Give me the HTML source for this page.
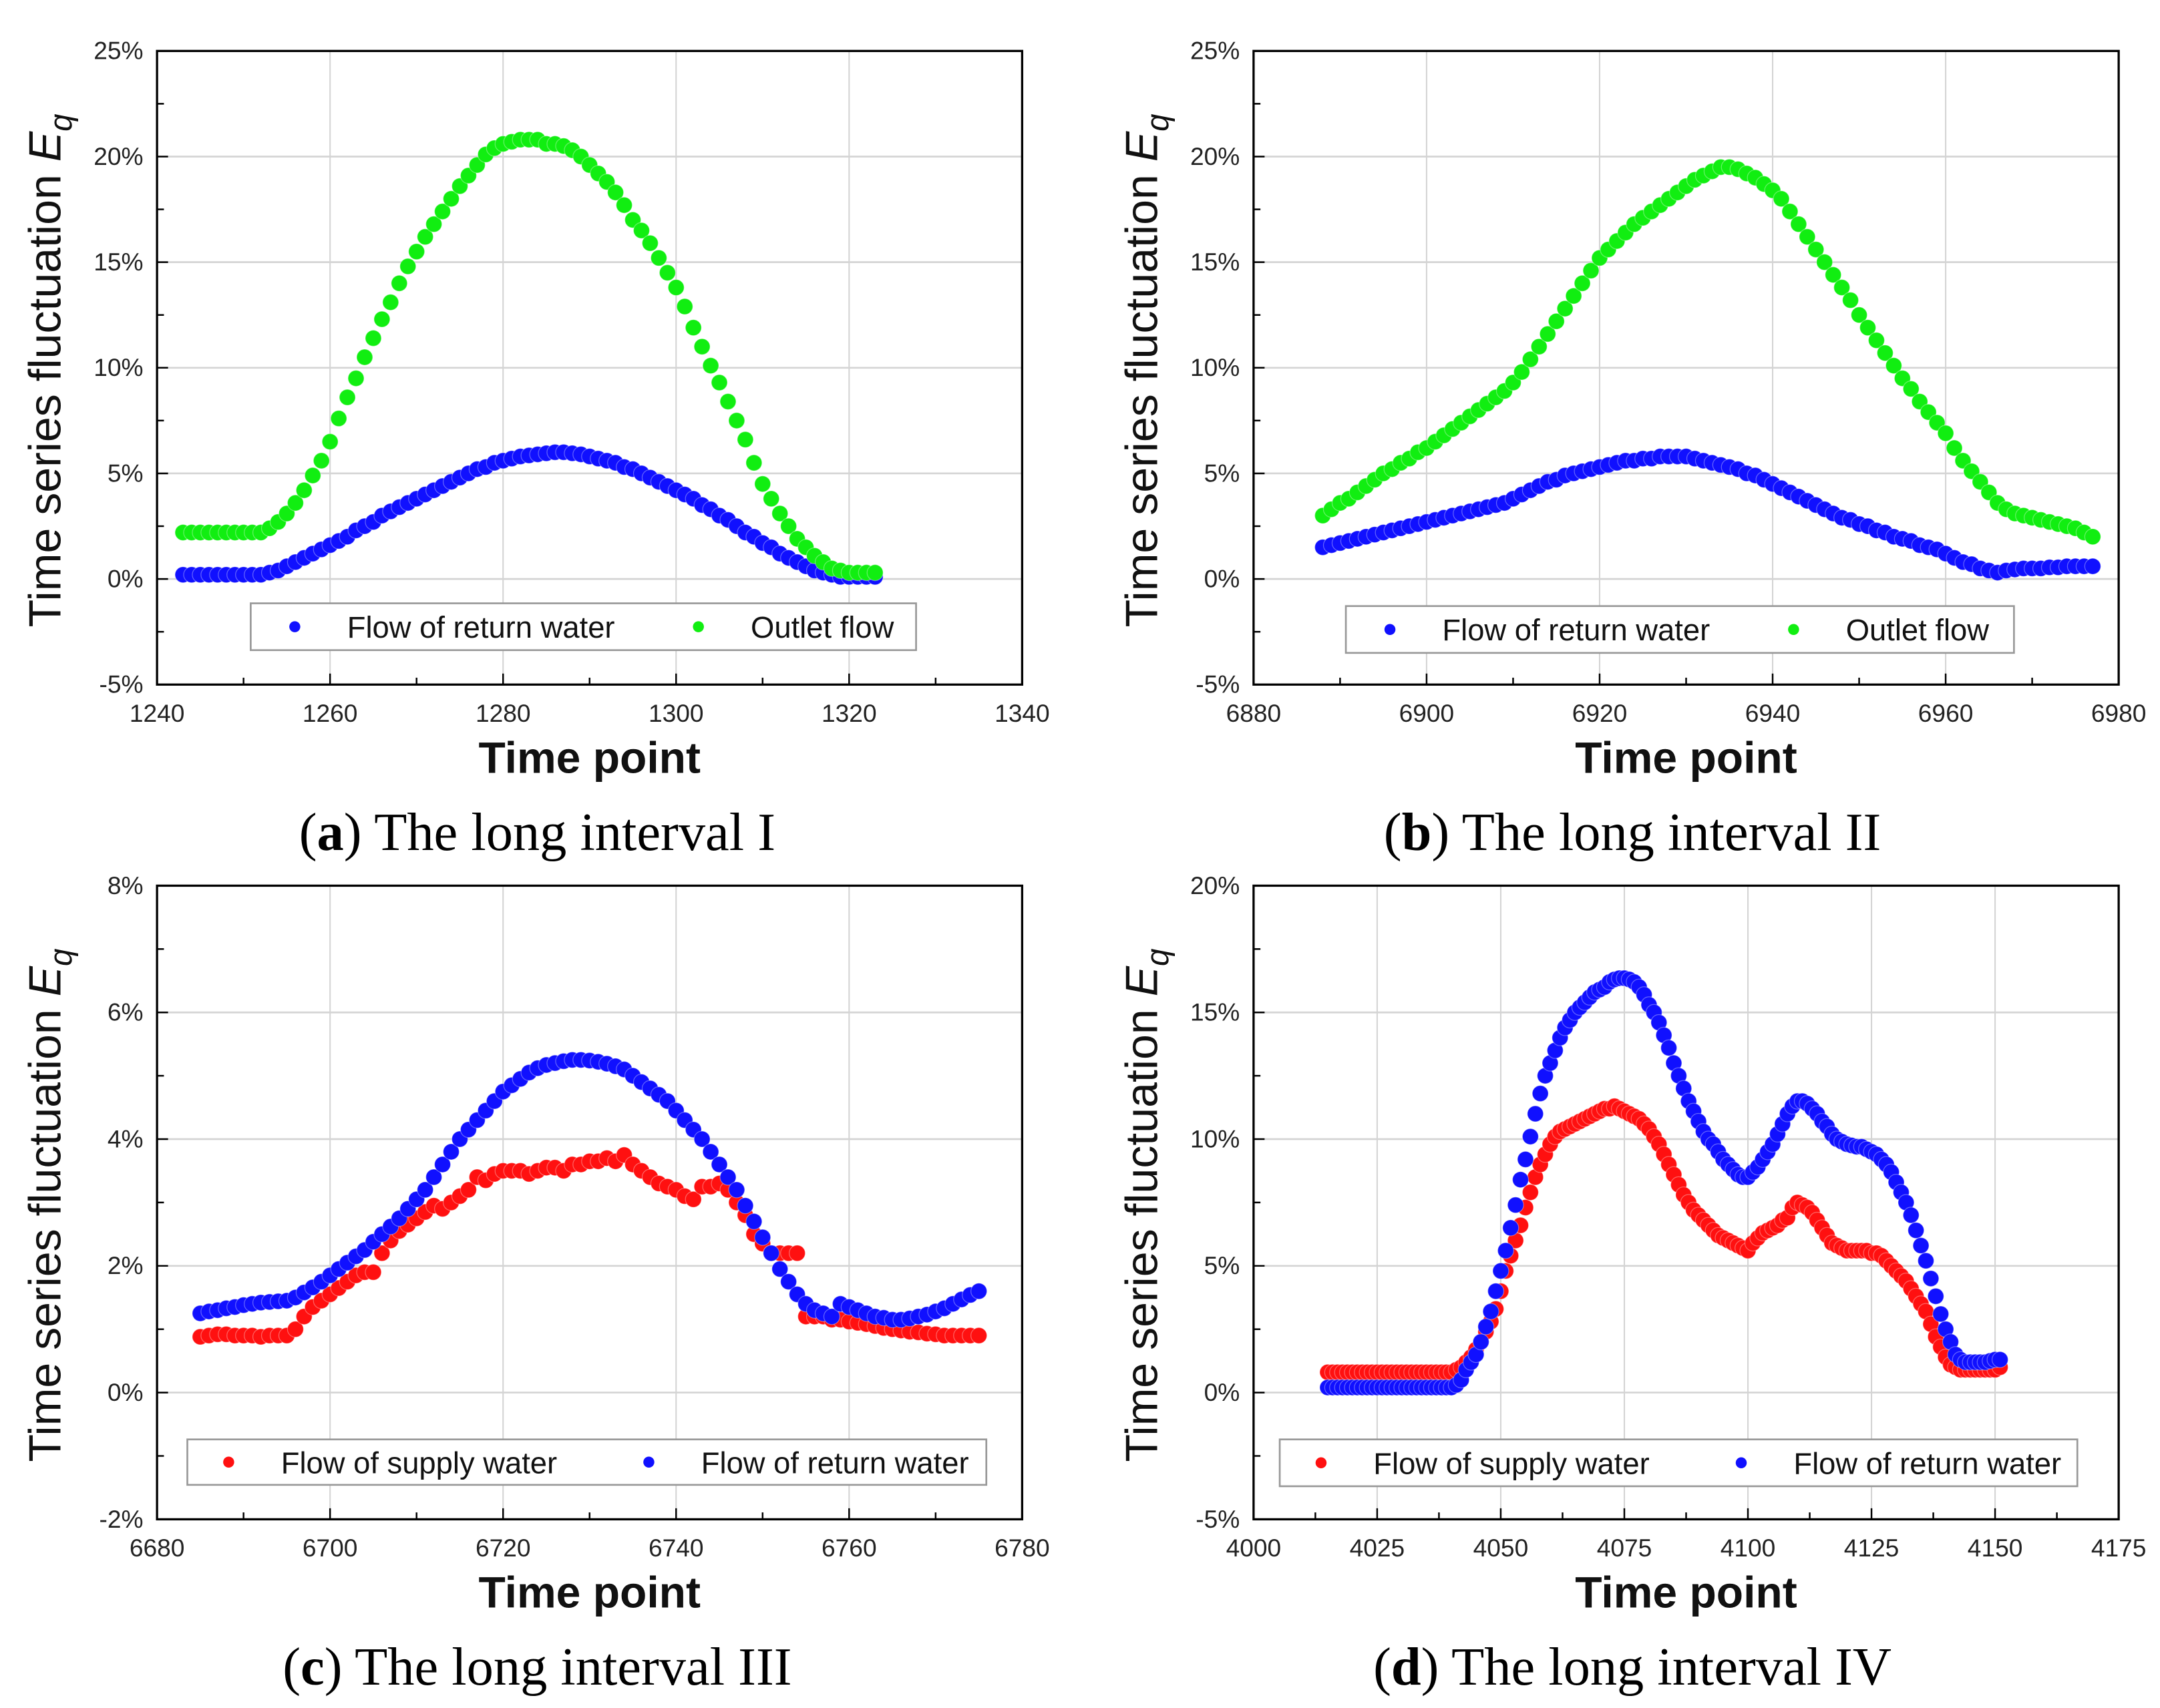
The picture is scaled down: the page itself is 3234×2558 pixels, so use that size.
<!DOCTYPE html>
<html><head><meta charset="utf-8"><style>
html,body{margin:0;padding:0;background:#fff}
svg{display:block}
text{font-family:"Liberation Sans",sans-serif}
text.cap{font-family:"Liberation Serif",serif}
</style></head><body>
<svg id="fig" width="3234" height="2558" viewBox="0 0 1568 1240" preserveAspectRatio="none" xmlns="http://www.w3.org/2000/svg"></svg>
<script>
// Panel a data
const aX0 = 1243;
const aReturn = [0.2,0.2,0.2,0.2,0.2,0.2,0.2,0.2,0.2,0.2,0.3,0.4,0.6,0.8,1.0,1.2,1.4,1.6,1.8,2.0,2.3,2.5,2.7,3.0,3.2,3.4,3.6,3.8,4.0,4.2,4.4,4.6,4.8,5.0,5.2,5.3,5.5,5.6,5.7,5.8,5.85,5.9,5.95,6.0,6.0,5.95,5.9,5.8,5.7,5.6,5.5,5.3,5.2,5.0,4.8,4.6,4.4,4.2,4.0,3.8,3.5,3.3,3.0,2.8,2.5,2.2,2.0,1.7,1.5,1.2,1.0,0.8,0.6,0.4,0.3,0.2,0.1,0.1,0.1,0.1,0.1];
const aOutlet = [2.2,2.2,2.2,2.2,2.2,2.2,2.2,2.2,2.2,2.2,2.4,2.7,3.1,3.6,4.2,4.9,5.6,6.5,7.6,8.6,9.5,10.5,11.4,12.3,13.1,14.0,14.8,15.5,16.2,16.8,17.4,18.0,18.6,19.1,19.6,20.1,20.4,20.6,20.7,20.8,20.8,20.8,20.6,20.6,20.5,20.3,20.0,19.6,19.2,18.8,18.3,17.7,17.0,16.5,15.9,15.2,14.5,13.8,12.9,11.9,11.0,10.1,9.3,8.4,7.5,6.6,5.5,4.5,3.8,3.1,2.5,1.9,1.5,1.1,0.8,0.5,0.4,0.3,0.3,0.3,0.3];
// Panel b data
const bX0 = 6888;
const bReturn = [1.5,1.6,1.7,1.8,1.9,2.0,2.1,2.2,2.3,2.4,2.5,2.6,2.7,2.8,2.9,3.0,3.1,3.2,3.3,3.4,3.5,3.6,3.8,4.0,4.2,4.4,4.6,4.7,4.9,5.0,5.1,5.2,5.3,5.4,5.5,5.6,5.6,5.7,5.7,5.8,5.8,5.8,5.8,5.7,5.6,5.5,5.4,5.3,5.2,5.0,4.9,4.7,4.5,4.3,4.1,3.9,3.7,3.5,3.3,3.1,2.9,2.8,2.6,2.5,2.3,2.2,2.0,1.9,1.8,1.6,1.5,1.4,1.2,1.0,0.8,0.7,0.5,0.4,0.3,0.4,0.45,0.5,0.5,0.5,0.55,0.55,0.6,0.6,0.6,0.6];
const bOutlet = [3.0,3.3,3.6,3.8,4.1,4.4,4.7,5.0,5.2,5.5,5.7,6.0,6.2,6.5,6.8,7.1,7.4,7.7,8.0,8.3,8.6,8.9,9.3,9.8,10.4,11.0,11.6,12.2,12.8,13.4,14.0,14.6,15.2,15.6,16.0,16.4,16.8,17.1,17.4,17.7,18.0,18.3,18.6,18.9,19.1,19.3,19.5,19.5,19.4,19.2,19.0,18.7,18.4,18.0,17.4,16.8,16.2,15.6,15.0,14.4,13.8,13.2,12.5,11.9,11.3,10.7,10.1,9.5,9.0,8.4,7.9,7.4,6.9,6.2,5.6,5.1,4.6,4.1,3.6,3.3,3.1,3.0,2.9,2.8,2.7,2.6,2.5,2.4,2.2,2.0];
// Panel c data
const cX0 = 6685;
const cSupply = [0.88,0.9,0.92,0.92,0.9,0.9,0.9,0.88,0.9,0.9,0.9,1.0,1.2,1.35,1.45,1.55,1.65,1.75,1.85,1.9,1.9,2.2,2.4,2.55,2.65,2.75,2.85,2.95,2.9,3.0,3.1,3.2,3.4,3.35,3.45,3.5,3.5,3.5,3.45,3.5,3.55,3.55,3.5,3.6,3.6,3.65,3.65,3.7,3.65,3.75,3.6,3.5,3.4,3.3,3.25,3.2,3.1,3.05,3.25,3.25,3.3,3.2,3.0,2.8,2.5,2.35,2.2,2.2,2.2,2.2,1.2,1.2,1.2,1.15,1.15,1.12,1.1,1.08,1.05,1.02,1.0,0.98,0.96,0.95,0.93,0.92,0.9,0.9,0.9,0.9,0.9];
const cReturn = [1.25,1.28,1.3,1.33,1.35,1.38,1.4,1.42,1.43,1.44,1.45,1.5,1.58,1.66,1.75,1.85,1.95,2.05,2.15,2.25,2.38,2.5,2.62,2.75,2.9,3.05,3.2,3.4,3.6,3.8,4.0,4.15,4.3,4.45,4.6,4.75,4.85,4.95,5.05,5.12,5.17,5.2,5.23,5.25,5.25,5.24,5.22,5.19,5.15,5.1,5.0,4.9,4.8,4.7,4.6,4.45,4.3,4.15,4.0,3.8,3.6,3.4,3.2,2.95,2.7,2.45,2.2,1.95,1.75,1.55,1.4,1.3,1.25,1.2,1.4,1.35,1.3,1.25,1.2,1.18,1.15,1.15,1.17,1.2,1.23,1.28,1.33,1.4,1.47,1.54,1.6];
// Panel d data
const dX0 = 4015;
const dSupply = [0.8,0.8,0.8,0.8,0.8,0.8,0.8,0.8,0.8,0.8,0.8,0.8,0.8,0.8,0.8,0.8,0.8,0.8,0.8,0.8,0.8,0.8,0.8,0.8,0.8,0.8,0.9,1.0,1.2,1.4,1.7,2.0,2.4,2.8,3.3,4.0,4.8,5.4,6.0,6.6,7.3,7.9,8.5,9.0,9.4,9.8,10.1,10.3,10.4,10.5,10.6,10.7,10.8,10.9,11.0,11.1,11.2,11.2,11.3,11.2,11.1,11.0,10.9,10.8,10.6,10.4,10.1,9.8,9.4,9.0,8.6,8.2,7.8,7.5,7.2,7.0,6.8,6.6,6.4,6.2,6.1,6.0,5.9,5.8,5.7,5.6,5.9,6.1,6.3,6.4,6.5,6.6,6.8,6.9,7.3,7.5,7.4,7.3,7.1,6.8,6.5,6.2,5.9,5.8,5.7,5.6,5.6,5.6,5.6,5.6,5.5,5.5,5.4,5.2,5.0,4.8,4.6,4.4,4.1,3.8,3.5,3.2,2.7,2.2,1.8,1.4,1.1,1.0,0.9,0.9,0.9,0.9,0.9,0.9,0.9,0.9,1.0];
const dReturn = [0.2,0.2,0.2,0.2,0.2,0.2,0.2,0.2,0.2,0.2,0.2,0.2,0.2,0.2,0.2,0.2,0.2,0.2,0.2,0.2,0.2,0.2,0.2,0.2,0.2,0.2,0.3,0.5,0.9,1.2,1.5,2.0,2.6,3.2,4.0,4.8,5.6,6.5,7.4,8.4,9.2,10.1,11.0,11.8,12.5,13.0,13.5,14.0,14.4,14.7,15.0,15.2,15.4,15.6,15.8,15.9,16.0,16.2,16.3,16.35,16.35,16.3,16.2,16.0,15.7,15.3,15.0,14.6,14.1,13.6,13.0,12.5,12.0,11.5,11.1,10.7,10.3,10.0,9.8,9.5,9.2,9.0,8.8,8.6,8.5,8.5,8.7,8.9,9.2,9.5,9.8,10.2,10.6,11.0,11.3,11.5,11.5,11.4,11.2,11.0,10.7,10.5,10.2,10.0,9.9,9.8,9.75,9.7,9.7,9.6,9.5,9.4,9.2,9.0,8.7,8.3,7.9,7.5,7.0,6.4,5.8,5.2,4.5,3.8,3.1,2.5,2.0,1.5,1.3,1.2,1.2,1.2,1.2,1.2,1.25,1.3,1.3];
// Tick labels
const aXTicks = [1240,1260,1280,1300,1320,1340];
const bXTicks = [6880,6900,6920,6940,6960,6980];
const cXTicks = [6680,6700,6720,6740,6760,6780];
const dXTicks = [4000,4025,4050,4075,4100,4125,4150,4175];
const abYTicks = [-5,0,5,10,15,20,25];
const cYTicks = [-2,0,2,4,6,8];
const dYTicks = [-5,0,5,10,15,20];

const NS = "http://www.w3.org/2000/svg";
const svg = document.getElementById('fig');
function mk(tag, attrs, parent){
  const e = document.createElementNS(NS, tag);
  for (const k in attrs) e.setAttribute(k, attrs[k]);
  (parent||svg).appendChild(e);
  return e;
}
const COL = {blue:'#1010ff', green:'#11ee11', red:'#ff1010'};

function panel(o){
  const g = mk('g', {});
  
  
  const L=o.L, R=o.R, T=o.T, B=o.B;
  const xs = v => L + (v - o.xt[0]) / (o.xt[o.xt.length-1] - o.xt[0]) * (R - L);
  const ys = v => B - (v - o.yt[0]) / (o.yt[o.yt.length-1] - o.yt[0]) * (B - T);
  const grid = mk('g', {}, g);
  
  
  o.xt.slice(1,-1).forEach(v => mk('line', {x1:xs(v), x2:xs(v), y1:T, y2:B, stroke:'#d4d4d4', 'stroke-width':1}, grid));
  o.yt.slice(1,-1).forEach(v => mk('line', {x1:L, x2:R, y1:ys(v), y2:ys(v), stroke:'#d4d4d4', 'stroke-width':1.3}, grid));
  const ticks = mk('g', {stroke:'#000', 'stroke-width':1.2}, g);
  
  
  for (let i=0;i<o.xt.length;i++){
    const x = xs(o.xt[i]);
    mk('line', {x1:x, x2:x, y1:B, y2:B-8}, ticks);
    if (i<o.xt.length-1){ const xm = (x + xs(o.xt[i+1]))/2; mk('line', {x1:xm, x2:xm, y1:B, y2:B-5}, ticks); }
  }
  for (let i=0;i<o.yt.length;i++){
    const y = ys(o.yt[i]);
    mk('line', {x1:L, x2:L+8, y1:y, y2:y}, ticks);
    if (i<o.yt.length-1){ const ym = (y + ys(o.yt[i+1]))/2; mk('line', {x1:L, x2:L+5, y1:ym, y2:ym}, ticks); }
  }
  o.series.forEach(s => {
    const sg = mk('g', {fill:COL[s.color]}, g);
    
    
    s.data.forEach((v,i) => {
      const c = mk('circle', {cx:xs(s.x0 + i), cy:ys(v), r:5.8, stroke:'#ffffff', 'stroke-opacity':0.35, 'stroke-width':0.6}, sg);
      
      
    });
  });
  const fr = mk('rect', {x:L, y:T, width:R-L, height:B-T, fill:'none', stroke:'#000', 'stroke-width':1.6}, g);
  
  
  o.xt.forEach(v => {
    const t = mk('text', {x:xs(v), y:B+27, 'text-anchor':'middle', 'font-size':18, fill:'#222'}, g);
    t.textContent = v;
    
    
  });
  o.yt.forEach(v => {
    const t = mk('text', {x:L-10, y:ys(v)+6, 'text-anchor':'end', 'font-size':18, fill:'#222'}, g);
    t.textContent = v + '%';
    
    
  });
  const lg = mk('g', {}, g);
  
  
  mk('rect', {x:o.leg[0], y:o.leg[1], width:o.leg[2], height:o.leg[3], fill:'#fff', stroke:'#999', 'stroke-width':1.3}, lg);
  o.series.forEach((s,i) => {
    const ex = o.leg[0] + o.legX[i];
    const cy = o.leg[1] + o.leg[3]/2;
    const ent = mk('g', {}, lg);
    
    
    mk('circle', {cx:ex, cy:cy, r:4, fill:COL[s.color]}, ent);
    const t = mk('text', {x:ex+38, y:cy+8, 'font-size':22, fill:'#111'}, ent);
    t.textContent = s.label;
  });
  const xt = mk('text', {x:(L+R)/2, y:B+64, 'text-anchor':'middle', 'font-size':32, 'font-weight':'bold', fill:'#111'}, g);
  xt.textContent = 'Time point';
  
  
  const yx = L - 70, yy = (T+B)/2 + 2;
  const yt = mk('text', {x:yx, y:yy, transform:`rotate(-90 ${yx} ${yy})`, 'text-anchor':'middle', 'font-size':33, fill:'#111'}, g);
  
  
  yt.innerHTML = 'Time series fluctuation <tspan font-style="italic">E</tspan><tspan font-style="italic" font-size="23" dy="8">q</tspan>';
  const cap = mk('text', {x:o.capX, y:B+120, 'text-anchor':'middle', 'font-size':39, fill:'#000', 'class':'cap'}, g);
  
  
  cap.innerHTML = '(<tspan font-weight="bold">' + o.letter + '</tspan>) ' + o.caption;
}

panel({name:'panel-a', L:114, R:742, T:37, B:497, xt:aXTicks, yt:abYTicks, leg:[182,438,483,34], legX:[32,325], capX:390, letter:'a', caption:'The long interval I',
  series:[{name:'series-return-water', color:'blue', label:'Flow of return water', x0:aX0, data:aReturn},
          {name:'series-outlet-flow', color:'green', label:'Outlet flow', x0:aX0, data:aOutlet}]});
panel({name:'panel-b', L:910, R:1538, T:37, B:497, xt:bXTicks, yt:abYTicks, leg:[977,440,485,34], legX:[32,325], capX:1185, letter:'b', caption:'The long interval II',
  series:[{name:'series-return-water', color:'blue', label:'Flow of return water', x0:bX0, data:bReturn},
          {name:'series-outlet-flow', color:'green', label:'Outlet flow', x0:bX0, data:bOutlet}]});
panel({name:'panel-c', L:114, R:742, T:643, B:1103, xt:cXTicks, yt:cYTicks, leg:[136,1045,580,33], legX:[30,335], capX:390, letter:'c', caption:'The long interval III',
  series:[{name:'series-supply-water', color:'red', label:'Flow of supply water', x0:cX0, data:cSupply},
          {name:'series-return-water', color:'blue', label:'Flow of return water', x0:cX0, data:cReturn}]});
panel({name:'panel-d', L:910, R:1538, T:643, B:1103, xt:dXTicks, yt:dYTicks, leg:[929,1045,579,34], legX:[30,335], capX:1185, letter:'d', caption:'The long interval IV',
  series:[{name:'series-supply-water', color:'red', label:'Flow of supply water', x0:dX0, data:dSupply},
          {name:'series-return-water', color:'blue', label:'Flow of return water', x0:dX0, data:dReturn}]});
</script>
</body></html>
